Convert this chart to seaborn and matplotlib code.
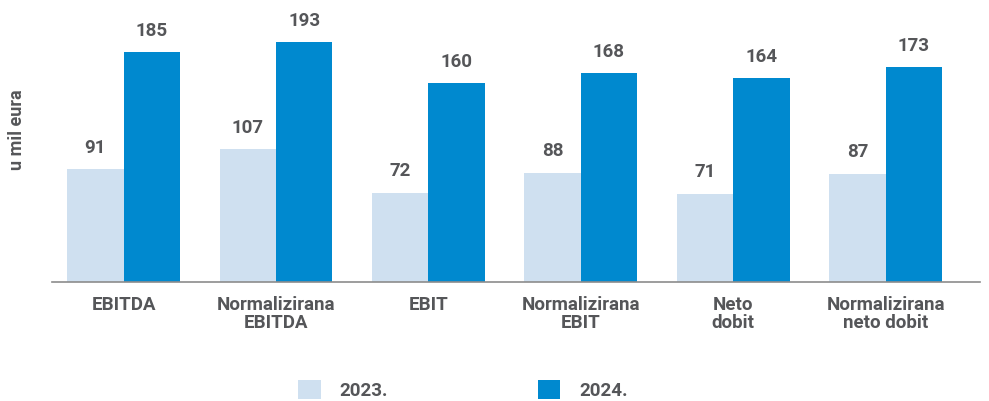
import pandas as pd
import matplotlib
matplotlib.use("Agg")
import matplotlib.pyplot as plt
import seaborn as sns

categories = ["EBITDA", "Normalizirana\nEBITDA", "EBIT", "Normalizirana\nEBIT",
              "Neto\ndobit", "Normalizirana\nneto dobit"]
years = ["2023.", "2024."]
values_2023 = [91, 107, 72, 88, 71, 87]
values_2024 = [185, 193, 160, 168, 164, 173]

COLORS = ["#cfe0f0", "#0089cf"]
TEXT = "#555659"

sns.set_theme(style="white")
plt.rcParams["font.family"] = ["Roboto", "DejaVu Sans"]

df = pd.DataFrame({
    "Kategorija": categories * 2,
    "Godina": [years[0]] * 6 + [years[1]] * 6,
    "Vrijednost": values_2023 + values_2024,
})

fig = plt.figure(figsize=(9.89, 4.01), dpi=100)
ax = fig.add_axes([52 / 989, 119 / 401, 928 / 989, 262 / 401])
sns.barplot(data=df, x="Kategorija", y="Vrijednost", hue="Godina",
            palette=COLORS, width=0.74, saturation=1, linewidth=0,
            ax=ax, legend=True)

for cont in ax.containers:
    ax.bar_label(cont, fmt="%d", padding=9, fontsize=13.5, fontweight="bold", color=TEXT)

ax.set_xlim(-0.47, 5.62)
ax.set_ylim(0, 211)
ax.set_yticks([])
ax.set_xlabel("")
ax.set_ylabel("u mil eura", fontsize=13, fontweight="bold", color=TEXT)
ax.yaxis.set_label_coords(-0.028, 0.58)
ax.tick_params(axis="x", length=0, pad=10, labelsize=13.5, labelcolor=TEXT)
for lbl in ax.get_xticklabels():
    lbl.set_fontweight("bold")
    lbl.set_linespacing(1.0)
for s in ["top", "right", "left"]:
    ax.spines[s].set_visible(False)
ax.spines["bottom"].set_color("#8c8c8c")
ax.spines["bottom"].set_linewidth(1.2)

handles, labels = ax.get_legend_handles_labels()
ax.legend_.remove()
leg = fig.legend(handles, labels, loc="lower center", bbox_to_anchor=(0.468, -0.04),
                 ncol=2, frameon=False, handlelength=1.2, handleheight=1.2,
                 handletextpad=1.0, columnspacing=8,
                 prop={"weight": "bold", "size": 13.5})
for t in leg.get_texts():
    t.set_color(TEXT)

fig.savefig("out.png", dpi=100, facecolor="white")
